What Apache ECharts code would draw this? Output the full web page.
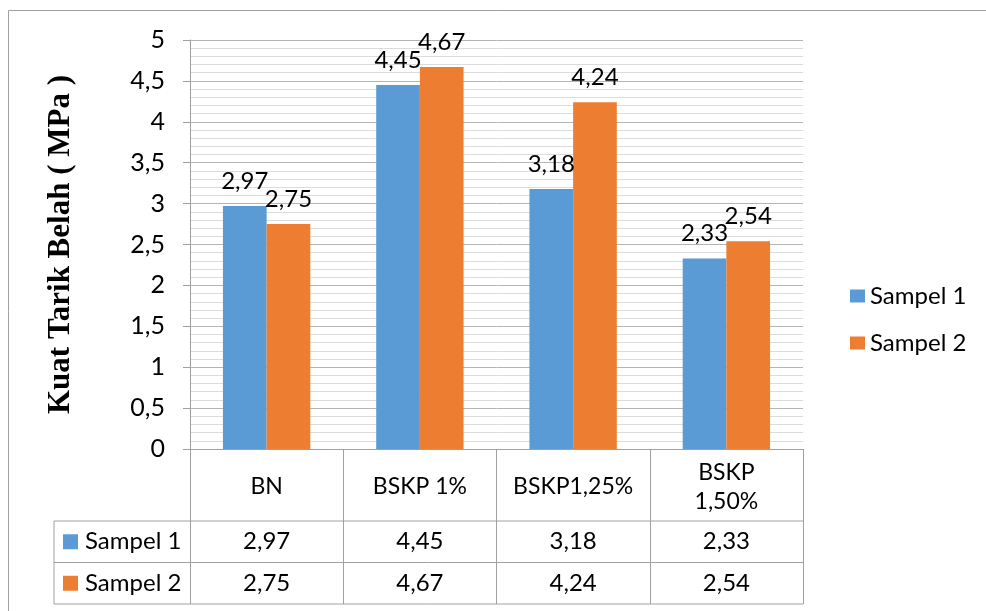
<!DOCTYPE html>
<html>
<head>
<meta charset="utf-8">
<script src="https://cdn.jsdelivr.net/npm/echarts@6/dist/echarts.min.js"></script>
<style>
html,body{margin:0;padding:0;background:#fff;}
#c{width:986px;height:611px;}
</style>
</head>
<body>
<div id="c"></div>
<script>
const categories = ['BN', 'BSKP 1%', 'BSKP1,25%', 'BSKP\n1,50%'];
const seriesNames = ['Sampel 1', 'Sampel 2'];
const sampel1 = [2.97, 4.45, 3.18, 2.33];
const sampel2 = [2.75, 4.67, 4.24, 2.54];
const colors = ['#5b9bd5', '#ed7d31'];
const yTitle = 'Kuat Tarik Belah ( MPa )';

const FONT = 'Lato, "Open Sans", sans-serif';
const fmt = v => String(v).replace('.', ',');

const chart = echarts.init(document.getElementById('c'), null, {renderer: 'canvas'});
const G = {left: 190, right: 183, top: 40, bottom: 162};
const lineCol = '#a0a0a0';

chart.setOption({
  animation: false,
  backgroundColor: '#fff',
  color: colors,
  grid: {left: G.left, right: G.right, top: G.top, bottom: G.bottom},
  legend: {
    orient: 'vertical', left: 845, top: 277,
    itemWidth: 15, itemHeight: 13, itemGap: 19,
    icon: 'rect',
    textStyle: {fontFamily: FONT, fontSize: 24, color: '#000', lineHeight: 28},
    data: seriesNames
  },
  xAxis: {
    type: 'category',
    data: categories,
    axisLine: {show: true, lineStyle: {color: lineCol, width: 1}},
    axisTick: {show: true, length: 155, inside: false, lineStyle: {color: lineCol, width: 1}},
    axisLabel: {
      fontFamily: FONT, fontSize: 23, color: '#000', margin: 38,
      verticalAlign: 'middle', lineHeight: 29, interval: 0
    },
    splitLine: {show: false}
  },
  yAxis: {
    type: 'value', min: 0, max: 5, interval: 0.5,
    name: yTitle, nameLocation: 'middle', nameGap: 114, nameRotate: 90,
    nameTextStyle: {fontFamily: '"Liberation Serif", "Times New Roman", serif', fontWeight: 'bold', fontSize: 31, color: '#000'},
    axisLine: {show: true, lineStyle: {color: lineCol}},
    axisTick: {show: true, length: 7, lineStyle: {color: lineCol}},
    axisLabel: {fontFamily: FONT, fontSize: 25, color: '#000', margin: 25, formatter: v => fmt(v)},
    splitLine: {show: true, lineStyle: {color: '#b5b5b5', width: 1}},
    minorTick: {show: false, splitNumber: 5},
    minorSplitLine: {show: true, lineStyle: {color: '#dcdcdc', width: 1}}
  },
  series: [sampel1, sampel2].map((d, i) => ({
    name: seriesNames[i],
    type: 'bar',
    data: d,
    barGap: '0%',
    barCategoryGap: '43%',
    itemStyle: {color: colors[i]},
    label: {
      show: true, position: 'top', distance: 13,
      fontFamily: FONT, fontSize: 24, color: '#000',
      formatter: p => fmt(p.value)
    }
  }))
});

// Data table beneath the chart (built from the arrays)
const x1 = 986 - G.right;
const yAxisPx = 611 - G.bottom;
const row1Top = yAxisPx + 72, rowH = 41.5;
const leftX = 54;
const g = [];
const ln = (xa, ya, xb, yb) => ({type: 'line', shape: {x1: xa, y1: ya, x2: xb, y2: yb}, style: {stroke: lineCol, lineWidth: 1}, z: 10});
g.push(ln(leftX, row1Top, x1, row1Top));
g.push(ln(leftX, row1Top + rowH, x1, row1Top + rowH));
g.push(ln(leftX, row1Top + 2 * rowH, x1, row1Top + 2 * rowH));
g.push(ln(leftX, row1Top, leftX, row1Top + 2 * rowH));
[sampel1, sampel2].forEach((arr, r) => {
  const cy = row1Top + rowH * (r + 0.5);
  g.push({type: 'rect', shape: {x: 63, y: cy - 7.5, width: 15, height: 15}, style: {fill: colors[r]}, z: 10});
  g.push({type: 'text', x: 85, y: cy, style: {text: seriesNames[r], font: '24px ' + FONT, fill: '#000', textVerticalAlign: 'middle', textAlign: 'left'}, z: 10});
  arr.forEach((v, i) => {
    const cx = chart.convertToPixel({xAxisIndex: 0}, i);
    g.push({type: 'text', x: cx, y: cy, style: {text: fmt(v), font: '24px ' + FONT, fill: '#000', textVerticalAlign: 'middle', textAlign: 'center'}, z: 10});
  });
});
// outer chart border
g.push({type: 'rect', shape: {x: 8.5, y: 10.5, width: 1000, height: 700}, style: {fill: null, stroke: '#a0a0a0', lineWidth: 1}, z: 0});
chart.setOption({graphic: g});
</script>
</body>
</html>
